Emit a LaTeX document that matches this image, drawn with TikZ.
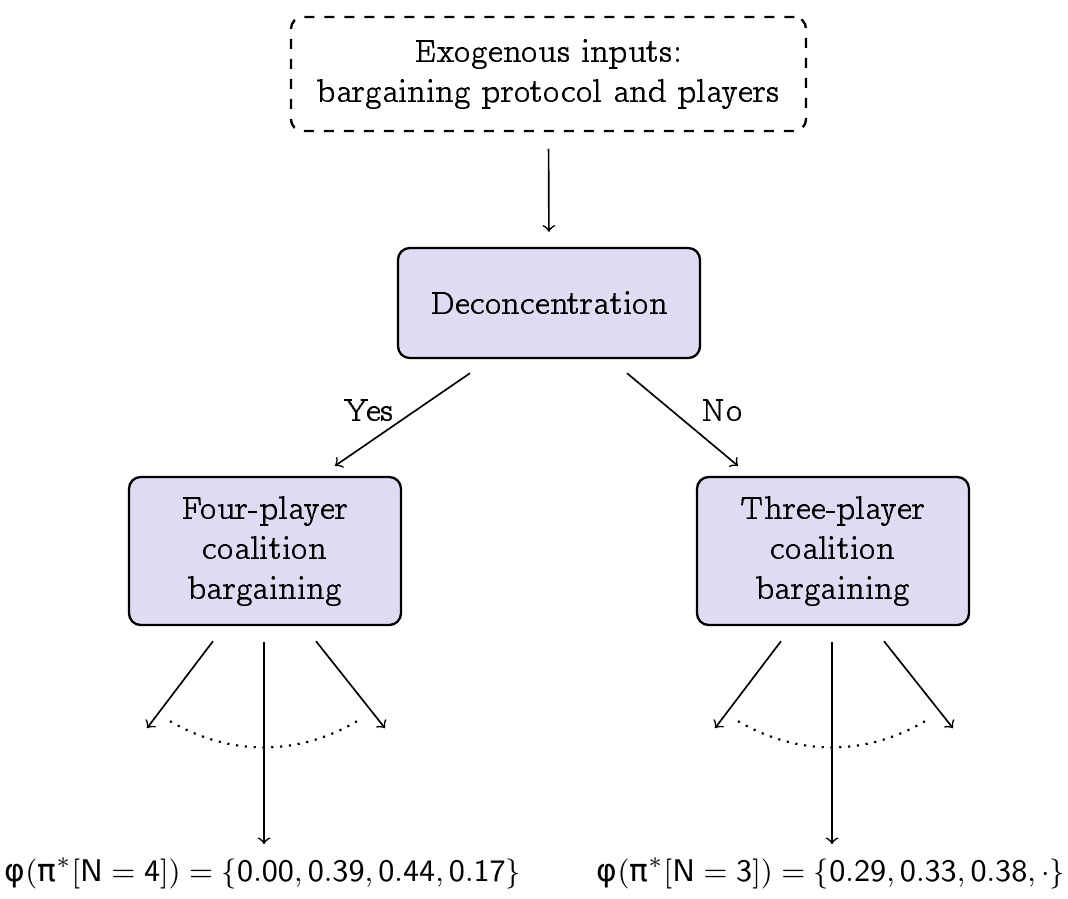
\documentclass[tikz,border=0pt]{standalone}
\usepackage{fontspec}
\newfontfamily\grk{DejaVu Sans}
\usetikzlibrary{calc}
\definecolor{boxfill}{RGB}{222,220,242}
\newcommand\ccfont{\fontencoding{OT1}\fontfamily{ccr}\selectfont}
\newcommand\gsf[1]{\mbox{\grk #1}}
\tikzset{
  stage/.style={draw, line width=0.7pt, rounded corners=3.5pt, fill=boxfill,
    align=center, font=\ccfont},
  inputbox/.style={draw, dashed, line width=0.7pt, rounded corners=3.5pt,
    align=center, font=\ccfont},
  flow/.style={->, line width=0.5pt},
  tag/.style={font=\ccfont},
  payoff/.style={inner sep=0pt, font=\fontsize{9.4}{11}\selectfont},
  choice/.style={dotted, line width=0.65pt}
}
\begin{document}
\begin{tikzpicture}[x=0.3pt,y=-0.3pt]
\useasboundingbox (0,0) rectangle (1068,898);

% boxes
\node[inputbox, minimum width=154.5pt, minimum height=34.2pt] (inp) at (548.5,74)
  {Exogenous inputs:\\ bargaining protocol and players};
\node[stage, minimum width=90.6pt, minimum height=33pt] (dec) at (549,303) {Deconcentration};
\node[stage, minimum width=81.6pt, minimum height=44.4pt] (four) at (265,551)
  {Four-player\\ coalition\\ bargaining};
\node[stage, minimum width=81.6pt, minimum height=44.4pt] (three) at (833,551)
  {Three-player\\ coalition\\ bargaining};

% outcomes
\node[payoff, anchor=north] (pf) at (263,857)
  {$\gsf{φ}(\gsf{π}^*[\mathsf{N}=\mathsf{4}])=\{\mathsf{0.00},\mathsf{0.39},\mathsf{0.44},\mathsf{0.17}\}$};
\node[payoff, anchor=north] (pt) at (831,857)
  {$\gsf{φ}(\gsf{π}^*[\mathsf{N}=\mathsf{3}])=\{\mathsf{0.29},\mathsf{0.33},\mathsf{0.38},\cdot\}$};

% main flow
\draw[flow, shorten <=5pt, shorten >=4.5pt] (inp.south) -- (dec.north);
\draw[flow] ($(dec.south)+(-79,14)$) -- node[tag, pos=0.4, left=3pt] {Yes} ($(four.north)+(70,-10)$);
\draw[flow] ($(dec.south)+(78,14)$) -- node[tag, pos=0.4, right=5.5pt] {No} ($(three.north)+(-95,-10)$);

% branches below each bargaining stage
\foreach \b in {four, three}{
  \coordinate (\b-l) at ($(\b.south)+(-118,102)$);
  \coordinate (\b-r) at ($(\b.south)+(120,102)$);
  \coordinate (\b-m) at ($(\b.south)+(-1,218)$);
  \draw[flow] ($(\b.south)+(-52,15)$) -- (\b-l);
  \draw[flow] ($(\b.south)+(51,15)$) -- (\b-r);
  \draw[flow] ($(\b.south)+(-1,16)$) -- (\b-m);
  \draw[choice] ($(\b.south)+(-95,95)$) .. controls ($(\b.south)+(-35,130)$) and ($(\b.south)+(33,130)$) .. ($(\b.south)+(92,95)$);
}
\end{tikzpicture}
\end{document}
